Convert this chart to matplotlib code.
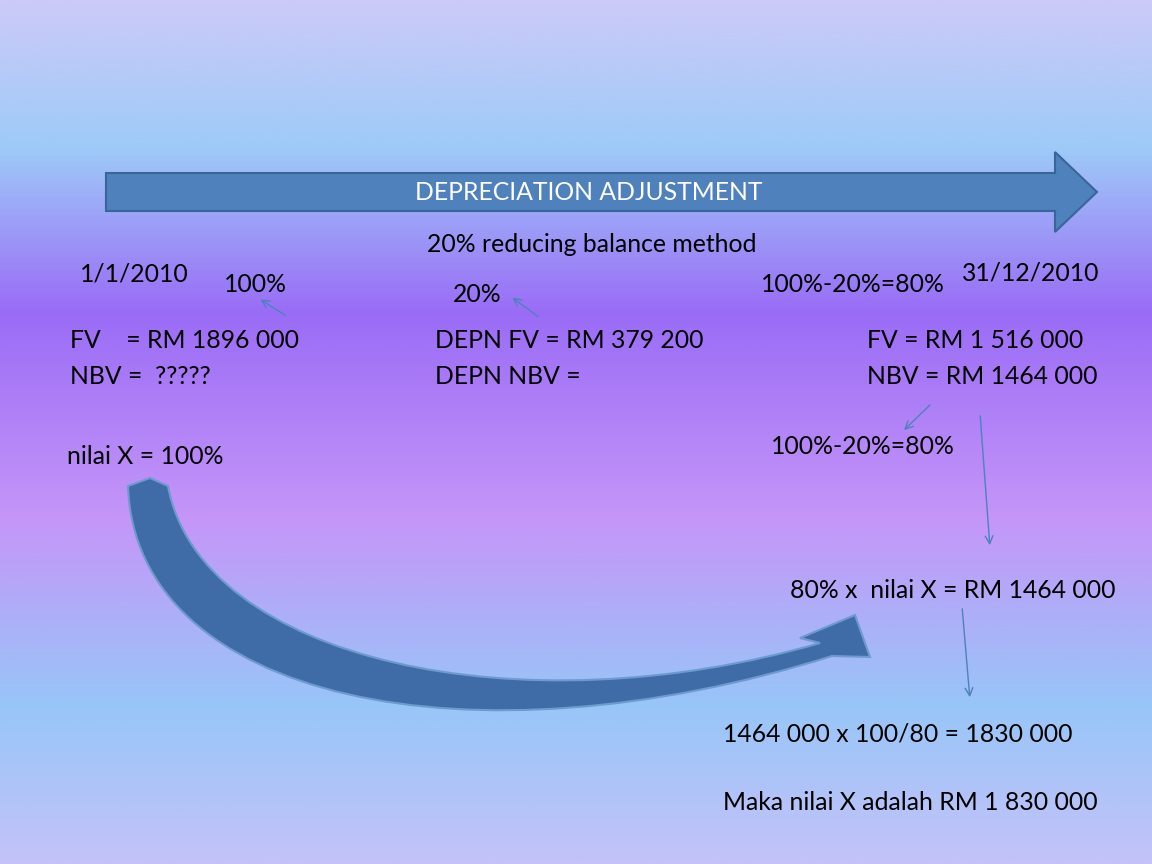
import numpy as np
import matplotlib
matplotlib.use("Agg")
import matplotlib.pyplot as plt
from matplotlib.path import Path
from matplotlib.patches import PathPatch, Polygon, FancyArrowPatch
from matplotlib.colors import LinearSegmentedColormap

W, H = 1152, 864
fig = plt.figure(figsize=(11.52, 8.64), dpi=100)
ax = fig.add_axes([0, 0, 1, 1])
ax.set_xlim(0, W); ax.set_ylim(H, 0); ax.axis('off')

stops = [(0.0, '#cccaf8'), (0.17, '#9ecaf8'), (0.36, '#9a6cf6'), (0.6, '#c596f8'),
         (0.82, '#98c6f8'), (1.0, '#c4c2f8')]
cmap = LinearSegmentedColormap.from_list('bg', stops)
grad = np.linspace(0, 1, 400).reshape(-1, 1)
ax.imshow(grad, cmap=cmap, aspect='auto', extent=[0, W, H, 0], zorder=0)

arrow = Polygon([(106, 173), (1055, 173), (1055, 152), (1097, 192), (1055, 232),
                 (1055, 211), (106, 211)], closed=True, fc='#4f81bd', ec='#3a6598', lw=1.5, zorder=2)
ax.add_patch(arrow)

v = [(128, 486),
     (135, 700), (470, 770), (832, 656),
     (870, 657), (855, 615), (800, 638),
     (820, 643),
     (520, 730), (200, 660), (168, 486),
     (150, 478), (128, 486)]
c = [Path.MOVETO, Path.CURVE4, Path.CURVE4, Path.CURVE4,
     Path.LINETO, Path.LINETO, Path.LINETO, Path.LINETO,
     Path.CURVE4, Path.CURVE4, Path.CURVE4,
     Path.LINETO, Path.CLOSEPOLY]
ax.add_patch(PathPatch(Path(v, c), fc='#3f6ca6', ec='#6f9ad0', lw=1.5, zorder=2))

thin = [((288, 317), (258, 298)), ((540, 318), (510, 296)), ((932, 403), (902, 432)),
        ((980, 413), (990, 548)), ((962, 606), (970, 700))]
for s, e in thin:
    ax.add_patch(FancyArrowPatch(s, e, arrowstyle='->', mutation_scale=14,
                                 color='#4f81bd', lw=1, zorder=3))

font = 'Lato'
fs = 17.8
texts = [
    ("1/1/2010", 80, 274), ("100%", 224, 284), ("20%", 453, 294),
    ("100%-20%=80%", 761, 284), ("31/12/2010", 962, 273),
    ("FV    = RM 1896 000", 70, 341), ("NBV =  ?????", 70, 376),
    ("DEPN FV = RM 379 200", 435, 341), ("DEPN NBV =", 435, 376),
    ("FV = RM 1 516 000", 867, 341), ("NBV = RM 1464 000", 867, 376),
    ("100%-20%=80%", 771, 446), ("nilai X = 100%", 67, 457),
    ("80% x  nilai X = RM 1464 000", 790, 590),
    ("1464 000 x 100/80 = 1830 000", 723, 734),
    ("Maka nilai X adalah RM 1 830 000", 723, 803),
]
for t, x, y in texts:
    ax.text(x, y, t, family=font, fontsize=fs, ha='left', va='center', color='black', zorder=4)
ax.text(592, 245, "20% reducing balance method", family=font, fontsize=fs, ha='center', va='center', zorder=4)
ax.text(589, 193, "DEPRECIATION ADJUSTMENT", family=font, fontsize=fs, ha='center', va='center',
        color='white', zorder=4)

fig.savefig('out.png', dpi=100)
